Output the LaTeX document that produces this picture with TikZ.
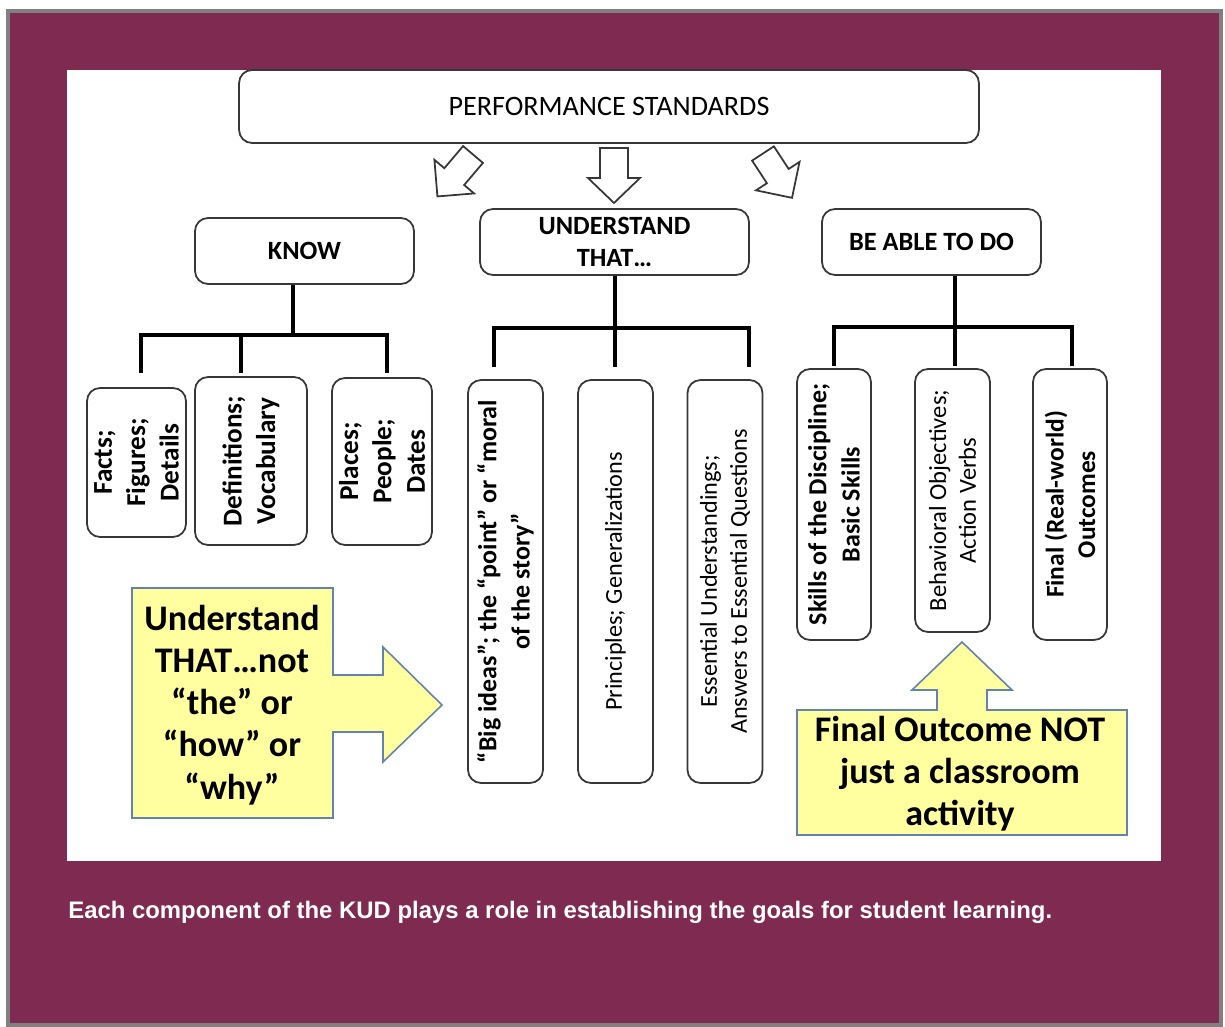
\documentclass[tikz,border=0pt]{standalone}
\usepackage{fontspec}
\setmainfont{Carlito}
\newfontfamily\arialfont{Liberation Sans}
\definecolor{maroon}{RGB}{127,43,81}
\definecolor{frame}{RGB}{128,128,128}
\definecolor{boxline}{RGB}{55,55,55}
\definecolor{calloutfill}{RGB}{255,255,160}
\definecolor{calloutline}{RGB}{100,130,175}
\tikzset{
  box/.style={draw=boxline, line width=1pt, rounded corners=0.26cm, fill=white, align=center, inner sep=0pt},
  vbox/.style={box, rotate=90},
  tree/.style={line width=2.8pt, line join=miter, line cap=butt},
  blockarrow/.style={draw=boxline, line width=1pt, fill=white, line join=miter},
  callout/.style={draw=calloutline, line width=0.9pt, fill=calloutfill, line join=miter},
  hfont/.style={font=\fontsize{15}{18}\selectfont\bfseries},
  calltext/.style={align=center, font=\fontsize{20.5}{24}\selectfont\bfseries}
}
\begin{document}
\begin{tikzpicture}[x=0.02cm, y=-0.02cm]
% background and frame
\useasboundingbox (0,0) rectangle (1225,1027);
\fill[white] (0,0) rectangle (1225,1027);
\fill[frame] (6,9) rectangle (1223,1027);
\fill[maroon] (10,13) rectangle (1219,1023);
\fill[white] (67,70) rectangle (1161,861);

% top box
\node[box, minimum width=14.8cm, minimum height=1.46cm, font=\fontsize{16}{19}\selectfont] (perf) at (609,106.5) {PERFORMANCE STANDARDS};

% block arrows
\draw[blockarrow, shift={(473,154.5)}, rotate=-40.3] (-13,0) -- (13,0) -- (13,29) -- (26,29) -- (0,55) -- (-26,29) -- (-13,29) -- cycle;
\draw[blockarrow, shift={(614,148)}] (-14,0) -- (14,0) -- (14,30) -- (26,30) -- (0,55) -- (-26,30) -- (-14,30) -- cycle;
\draw[blockarrow, shift={(763,153.5)}, rotate=33.2] (-13,0) -- (13,0) -- (13,27) -- (26,27) -- (0,53) -- (-26,27) -- (-13,27) -- cycle;

% second level
\node[box, hfont, minimum width=4.38cm, minimum height=1.32cm] (know) at (304.5,251) {KNOW};
\node[box, hfont, minimum width=5.38cm, minimum height=1.32cm] (und) at (614.5,242) {UNDERSTAND\\THAT…};
\node[box, hfont, minimum width=4.38cm, minimum height=1.32cm] (able) at (931.5,242) {BE ABLE TO DO};

% third level - KNOW
\node[vbox, minimum width=2.98cm, minimum height=1.98cm, font=\fontsize{15.5}{19}\selectfont\bfseries] (facts) at (136.5,462.5) {Facts;\\Figures;\\Details};
\node[vbox, minimum width=3.36cm, minimum height=2.24cm, font=\fontsize{15.5}{19}\selectfont\bfseries] (defs) at (251,461) {Definitions;\\Vocabulary};
\node[vbox, minimum width=3.34cm, minimum height=2.0cm, font=\fontsize{15.5}{19}\selectfont\bfseries] (places) at (382,461.5) {Places;\\People;\\Dates};

% third level - UNDERSTAND
\node[vbox, minimum width=8.06cm, minimum height=1.5cm, font=\fontsize{14.8}{19}\selectfont\bfseries] (big) at (505.5,581.5) {“Big ideas”; the “point” or “moral\\of the story”};
\node[vbox, minimum width=8.06cm, minimum height=1.5cm, font=\fontsize{13.8}{17}\selectfont] (princ) at (615.5,581.5) {Principles; Generalizations};
\node[vbox, minimum width=8.06cm, minimum height=1.5cm, font=\fontsize{13.8}{17}\selectfont] (ess) at (725,581.5) {Essential Understandings;\\Answers to Essential Questions};

% third level - BE ABLE TO DO
\node[vbox, minimum width=5.42cm, minimum height=1.48cm, font=\fontsize{14.8}{19}\selectfont\bfseries] (skills) at (834,504.5) {Skills of the Discipline;\\Basic Skills};
\node[vbox, minimum width=5.26cm, minimum height=1.5cm, font=\fontsize{14}{17}\selectfont] (behav) at (952.5,500.5) {Behavioral Objectives;\\Action Verbs};
\node[vbox, minimum width=5.42cm, minimum height=1.48cm, font=\fontsize{14.5}{18}\selectfont\bfseries] (final) at (1070,504.5) {Final (Real-world)\\Outcomes};

% tree connectors - KNOW
\coordinate (kj) at (293,335);
\coordinate (k1) at (141,373);
\coordinate (k2) at (241,373);
\coordinate (k3) at (387,373);
\draw[tree] (know.south -| kj) -- (kj);
\draw[tree] (k1) |- (kj) -| (k3);
\draw[tree] (k2 |- kj) -- (k2);

% tree connectors - UNDERSTAND
\coordinate (uj) at (615,328);
\coordinate (u1) at (494,367);
\coordinate (u2) at (615,367);
\coordinate (u3) at (749,367);
\draw[tree] (und.south -| uj) -- (uj);
\draw[tree] (u1) |- (uj) -| (u3);
\draw[tree] (uj) -- (u2);

% tree connectors - BE ABLE TO DO
\coordinate (aj) at (955,327);
\coordinate (a1) at (834,366);
\coordinate (a2) at (955,366);
\coordinate (a3) at (1072,366);
\draw[tree] (able.south -| aj) -- (aj);
\draw[tree] (a1) |- (aj) -| (a3);
\draw[tree] (aj) -- (a2);

% callouts
\draw[callout] (132,588) -- (333,588) -- (333,675) -- (383,675) -- (383,647) -- (442,705) -- (383,762) -- (383,732) -- (333,732) -- (333,818) -- (132,818) -- cycle;
\node[calltext] (c1) at (232,705) {Understand\\THAT…not\\“the” or\\“how” or\\“why”};

\draw[callout] (797,710) -- (937,710) -- (937,690) -- (912,690) -- (962,642) -- (1012,690) -- (987,690) -- (987,710) -- (1127,710) -- (1127,835) -- (797,835) -- cycle;
\node[calltext] (c2) at (960,774) {Final Outcome NOT\\just a classroom\\activity};

% caption
\node[anchor=base west, inner sep=0pt, text=white, font=\arialfont\fontsize{13.6}{16}\selectfont\bfseries] (cap) at (68,918) {Each component of the KUD plays a role in establishing the goals for student learning.};
\end{tikzpicture}
\end{document}
